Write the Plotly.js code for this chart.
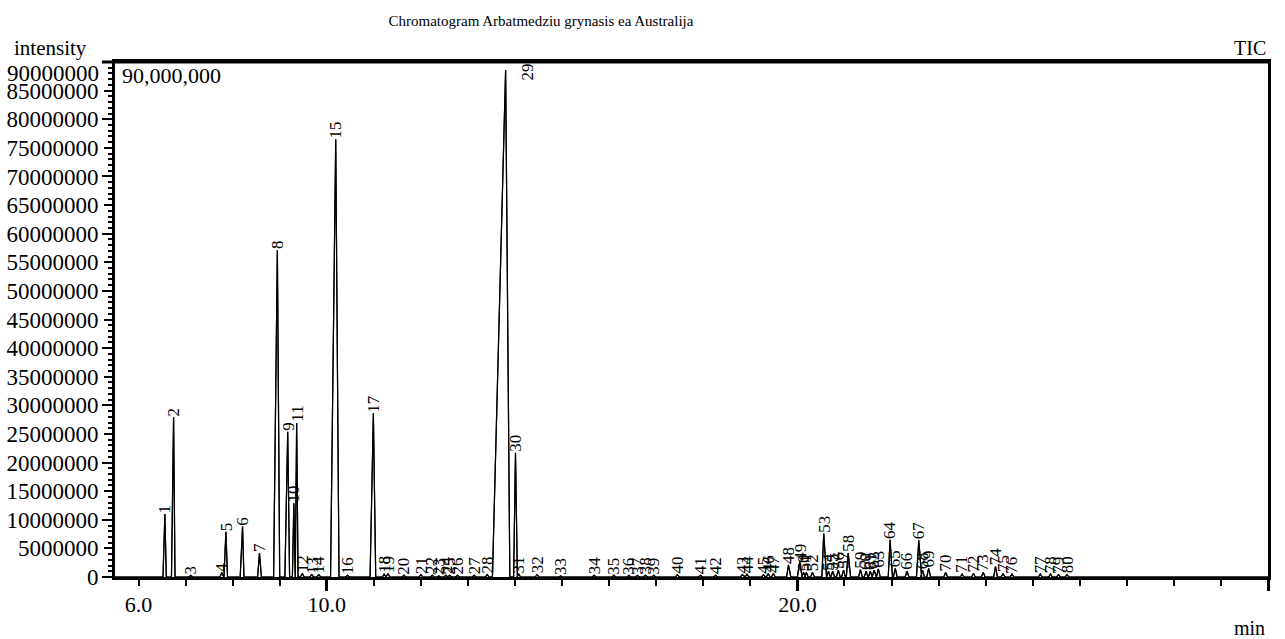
<!DOCTYPE html>
<html>
<head>
<meta charset="utf-8">
<script src="https://cdn.plot.ly/plotly-3.0.1.min.js"></script>
<style>html,body{margin:0;padding:0;background:#fff;}#chart{width:1285px;height:639px;}</style>
</head>
<body>
<div id="chart"></div>
<script>
// Peak numbers
var peakNo = [1,2,3,4,5,6,7,8,9,10,11,12,13,14,15,16,17,18,19,20,21,22,23,24,25,26,27,28,29,30,31,32,33,34,35,36,37,38,39,40,41,42,43,44,45,46,47,48,49,50,51,52,53,54,55,56,57,58,59,60,61,62,63,64,65,66,67,68,69,70,71,72,73,74,75,76,77,78,79,80];
// Retention time at apex (min)
var peakRT = [6.56,6.745,7.11,7.77,7.856,8.21,8.57,8.95,9.17,9.30,
              9.36,9.48,9.68,9.83,10.19,10.44,10.99,11.22,11.30,11.64,
              12.00,12.24,12.38,12.53,12.61,12.78,13.13,13.41,13.80,14.01,
              14.08,14.47,14.97,15.68,16.10,16.42,16.60,16.77,16.95,17.45,
              17.94,18.26,18.83,18.93,19.28,19.38,19.49,19.81,20.05,20.13,
              20.19,20.32,20.56,20.66,20.75,20.87,20.98,21.08,21.34,21.46,
              21.55,21.63,21.72,21.97,22.08,22.33,22.58,22.66,22.79,23.15,
              23.50,23.74,23.95,24.21,24.37,24.56,25.16,25.38,25.55,25.73];
// Apex intensity
var peakHeight = [11.0e6,27.9e6,0.3e6,0.8e6,7.9e6,8.8e6,4.2e6,57.1e6,25.4e6,12.9e6,
                  26.9e6,0.6e6,0.4e6,0.4e6,76.5e6,0.3e6,28.6e6,0.5e6,0.6e6,0.3e6,
                  0.4e6,0.3e6,0.2e6,0.3e6,0.3e6,0.3e6,0.3e6,0.4e6,88.6e6,21.7e6,
                  0.5e6,0.4e6,0.2e6,0.3e6,0.3e6,0.3e6,0.3e6,0.3e6,0.3e6,0.4e6,
                  0.3e6,0.3e6,0.4e6,0.5e6,0.4e6,0.6e6,0.6e6,2.1e6,2.7e6,0.8e6,
                  0.8e6,0.8e6,7.6e6,1.0e6,1.0e6,1.2e6,1.2e6,4.2e6,1.3e6,1.0e6,
                  1.0e6,1.2e6,1.4e6,6.5e6,1.5e6,1.0e6,6.4e6,1.2e6,1.5e6,0.8e6,
                  0.5e6,0.6e6,0.8e6,1.8e6,0.6e6,0.5e6,0.5e6,0.5e6,0.4e6,0.4e6];
// Peak start -> apex and apex -> end (min)
var peakFront = [0.04,0.045,0.04,0.04,0.04,0.05,0.04,0.08,0.06,0.03,
                 0.03,0.04,0.04,0.04,0.11,0.04,0.07,0.04,0.04,0.04,
                 0.04,0.04,0.04,0.04,0.04,0.04,0.04,0.04,0.28,0.04,
                 0.04,0.04,0.04,0.04,0.04,0.04,0.04,0.04,0.04,0.04,
                 0.04,0.04,0.04,0.04,0.04,0.04,0.04,0.04,0.05,0.04,
                 0.04,0.04,0.04,0.04,0.04,0.04,0.04,0.04,0.04,0.04,
                 0.04,0.04,0.04,0.04,0.04,0.04,0.05,0.04,0.04,0.04,
                 0.04,0.04,0.04,0.04,0.04,0.04,0.04,0.04,0.04,0.04];
var peakBack = [0.03,0.03,0.04,0.04,0.035,0.03,0.04,0.05,0.04,0.03,
                0.03,0.04,0.04,0.04,0.07,0.04,0.05,0.04,0.04,0.04,
                0.04,0.04,0.04,0.04,0.04,0.04,0.04,0.04,0.09,0.04,
                0.04,0.04,0.04,0.04,0.04,0.04,0.04,0.04,0.04,0.04,
                0.04,0.04,0.04,0.04,0.04,0.04,0.04,0.05,0.05,0.04,
                0.04,0.04,0.06,0.04,0.04,0.04,0.04,0.05,0.04,0.04,
                0.04,0.04,0.04,0.05,0.04,0.04,0.06,0.04,0.04,0.04,
                0.04,0.04,0.04,0.04,0.04,0.04,0.04,0.04,0.04,0.04];

var xTickVals = [6, 10, 20, 30];
var xTickText = ['6.0', '10.0', '20.0', '30.0'];
var yTickVals = [0,5e6,10e6,15e6,20e6,25e6,30e6,35e6,40e6,45e6,50e6,55e6,60e6,65e6,70e6,75e6,80e6,85e6];
var yTickText = ['0','5000000','10000000','15000000','20000000','25000000','30000000','35000000','40000000','45000000','50000000','55000000','60000000','65000000','70000000','75000000','80000000','85000000'];
var yTopTickText = '90000000';
var yLongTicks = [0,10e6,20e6,30e6,40e6,50e6,60e6,70e6,80e6,90e6];
var xLongTicks = [10, 20, 30];

var xRange = [5.5, 30];
var yRange = [0, 90e6];

// Build chromatogram trace from peak table
var cx = [xRange[0]], cy = [0];
for (var i = 0; i < peakRT.length; i++) {
  cx.push(peakRT[i] - peakFront[i], peakRT[i], peakRT[i] + peakBack[i]);
  cy.push(0, peakHeight[i], 0);
}
cx.push(xRange[1]); cy.push(0);

var serif = 'Liberation Serif, Times New Roman, serif';

var trace = {x: cx, y: cy, type: 'scatter', mode: 'lines',
  line: {color: '#000', width: 1.2}, hoverinfo: 'skip', showlegend: false};
var trace2 = {x: cx, y: cy, type: 'scatter', mode: 'lines', xaxis: 'x2', yaxis: 'y2',
  line: {color: '#000', width: 1.2}, hoverinfo: 'skip', showlegend: false};

var annotations = [];
for (var j = 0; j < peakNo.length; j++) {
  var a = {x: peakRT[j], y: peakHeight[j], xref: 'x', yref: 'y', text: String(peakNo[j]),
    showarrow: false, textangle: -90, xanchor: 'center', yanchor: 'bottom', yshift: 0,
    font: {family: serif, size: 17, color: '#000'}, borderpad: 0};
  if (peakHeight[j] > 0.85 * yRange[1]) {
    a.y = 1; a.yref = 'paper'; a.yanchor = 'top'; a.xanchor = 'left'; a.xshift = 11; a.yshift = -1;
  }
  annotations.push(a);
}
// top y tick label sits lower, clamped inside the frame as in the reference
annotations.push({xref: 'paper', yref: 'paper', x: -0.0121, y: 0.9786, xanchor: 'right', yanchor: 'middle',
  text: yTopTickText, showarrow: false, font: {family: serif, size: 23, color: '#000'}});
annotations.push({xref: 'paper', yref: 'paper', x: -0.0893, y: 1.027, xanchor: 'left', yanchor: 'middle',
  text: 'intensity', showarrow: false, font: {family: serif, size: 21, color: '#000'}});
annotations.push({xref: 'paper', yref: 'paper', x: 1, y: 1.027, xanchor: 'right', yanchor: 'middle',
  text: 'TIC', showarrow: false, font: {family: serif, size: 20, color: '#000'}});
annotations.push({xref: 'paper', yref: 'paper', x: 0.984, y: -0.099, xanchor: 'center', yanchor: 'middle',
  text: 'min', showarrow: false, font: {family: serif, size: 20, color: '#000'}});
annotations.push({xref: 'paper', yref: 'paper', x: 0.004, y: 0.973, xanchor: 'left', yanchor: 'middle',
  text: '90,000,000', showarrow: false, font: {family: serif, size: 22, color: '#000'}});

var layout = {
  width: 1285, height: 639,
  margin: {l: 115, r: 17, t: 62, b: 62, pad: 0},
  paper_bgcolor: '#fff', plot_bgcolor: '#fff',
  title: {text: 'Chromatogram Arbatmedziu grynasis ea Australija', x: 0.421, xref: 'container', xanchor: 'center',
    y: 0.967, yref: 'container', yanchor: 'middle', font: {family: serif, size: 15, color: '#000'}},
  showlegend: false,
  xaxis: {range: xRange, showline: true, linewidth: 3, linecolor: '#000', mirror: true,
    showgrid: false, zeroline: false, ticks: 'outside', ticklen: 6, tickwidth: 2, tickcolor: '#000',
    tickvals: xTickVals, ticktext: xTickText, tickfont: {family: serif, size: 22, color: '#000'},
    ticklabelstandoff: 0,
    minor: {dtick: 1, tick0: 0, ticks: 'outside', ticklen: 6, tickwidth: 2, tickcolor: '#000', showgrid: false}},
  yaxis: {range: yRange, showline: true, linewidth: 3, linecolor: '#000', mirror: true,
    showgrid: false, zeroline: false, ticks: 'outside', ticklen: 8, tickwidth: 2, tickcolor: '#000',
    tickvals: yTickVals, ticktext: yTickText, tickfont: {family: serif, size: 23, color: '#000'},
    ticklabelstandoff: 1,
    minor: {dtick: 1e6, tick0: 0, ticks: 'outside', ticklen: 4, tickwidth: 2, tickcolor: '#000', showgrid: false}},
  xaxis2: {range: xRange, overlaying: 'x', anchor: 'y2', side: 'bottom', showline: false,
    showgrid: false, zeroline: false, ticks: 'outside', ticklen: 13, tickwidth: 3, tickcolor: '#000',
    tickvals: xLongTicks, showticklabels: false},
  yaxis2: {range: yRange, overlaying: 'y', anchor: 'x2', side: 'left', showline: false,
    showgrid: false, zeroline: false, ticks: 'outside', ticklen: 12, tickwidth: 2, tickcolor: '#000',
    tickvals: yLongTicks, showticklabels: false},
  shapes: [{type: 'line', xref: 'paper', yref: 'paper', x0: -0.0113, x1: 1, y0: 1, y1: 1,
    line: {color: '#000', width: 3}}],
  annotations: annotations
};

Plotly.newPlot('chart', [trace, trace2], layout, {staticPlot: true, displayModeBar: false});
</script>
</body>
</html>
